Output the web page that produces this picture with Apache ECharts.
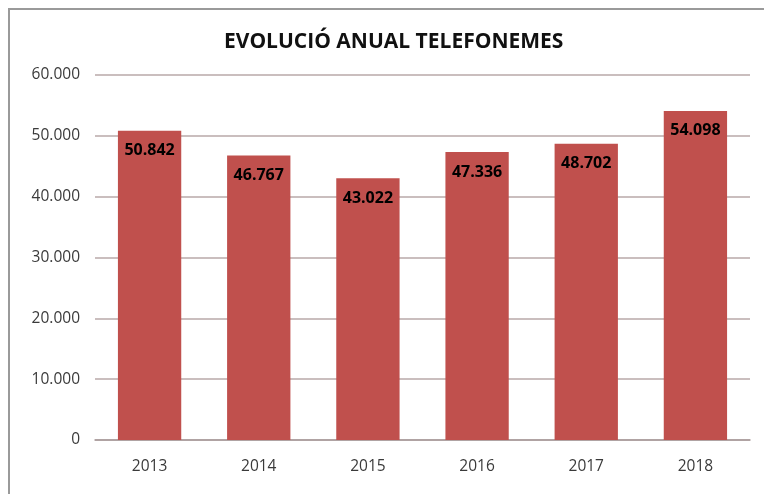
<!DOCTYPE html>
<html><head><meta charset="utf-8">
<script src="https://cdn.jsdelivr.net/npm/echarts@6/dist/echarts.min.js"></script>
<style>
html,body{margin:0;padding:0;background:#fff;}
#frame{position:absolute;left:8px;top:8px;width:760px;height:490px;border-top:2px solid #9a9a9a;border-left:2px solid #9a9a9a;box-sizing:border-box;}
#c{position:absolute;left:0;top:0;width:764px;height:494px;}
</style></head>
<body>
<div id="frame"></div>
<div id="c"></div>
<script>
const categories = ['2013','2014','2015','2016','2017','2018'];
const values = [50842, 46767, 43022, 47336, 48702, 54098];
const titleText = 'EVOLUCIÓ ANUAL TELEFONEMES';

function fmt(v){ return String(v).replace(/\B(?=(\d{3})+(?!\d))/g,'.'); }

const chart = echarts.init(document.getElementById('c'));
chart.setOption({
  animation:false,
  title:{text:titleText,left:219,top:27,textStyle:{fontFamily:'Open Sans',fontWeight:'bold',fontSize:21,color:'#111'}},
  grid:{left:95,right:14,top:75,bottom:54},
  xAxis:{type:'category',data:categories,
    axisLine:{lineStyle:{color:'#a89a9a',width:1.5}},axisTick:{show:false},
    axisLabel:{color:'#3a3a3a',fontFamily:'Open Sans',fontSize:15.5,margin:19}},
  yAxis:{type:'value',min:0,max:60000,interval:10000,
    axisLine:{show:false},axisTick:{show:false},
    splitLine:{lineStyle:{color:'#b8a8a8',width:1.5}},
    axisLabel:{color:'#3a3a3a',fontFamily:'Open Sans',fontSize:15.5,margin:15,formatter:v=>fmt(v)}},
  series:[{type:'bar',data:values,barWidth:'58%',
    itemStyle:{color:'#c0504d'},
    label:{show:true,position:'insideTop',distance:12,color:'#000',fontFamily:'Open Sans',fontWeight:'bold',fontSize:16,formatter:p=>fmt(p.value)}}]
});
</script>
</body></html>
